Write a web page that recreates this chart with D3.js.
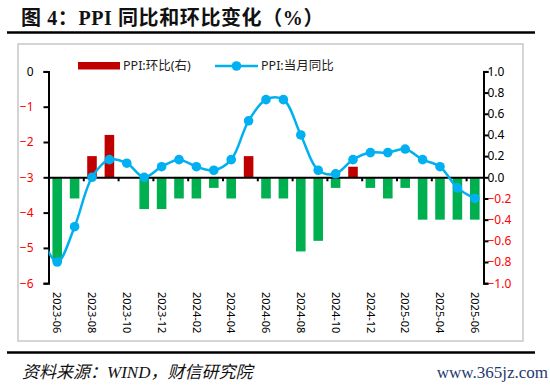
<!DOCTYPE html>
<html>
<head>
<meta charset="utf-8">
<script src="https://cdn.jsdelivr.net/npm/d3@7"></script>
<style>
    body { margin: 0; background: #fff; }
    svg { display: block; }
</style>
</head>
<body>
<div id="chart"></div>
<script>
// months shown on the x axis
var months = ["2023-06","2023-07","2023-08","2023-09","2023-10","2023-11","2023-12",
    "2024-01","2024-02","2024-03","2024-04","2024-05","2024-06","2024-07","2024-08",
    "2024-09","2024-10","2024-11","2024-12","2025-01","2025-02","2025-03","2025-04",
    "2025-05","2025-06"];
// PPI 当月同比 (left axis)
var yoy = [-5.4,-4.4,-3.0,-2.5,-2.6,-3.0,-2.7,-2.5,-2.7,-2.8,-2.5,-1.4,-0.8,-0.8,-1.8,
    -2.8,-2.9,-2.5,-2.3,-2.3,-2.2,-2.5,-2.7,-3.3,-3.6];
// the month before the window, the line comes in from it (clipped)
var yoyBefore = -4.6;
// PPI 环比 (right axis)
var mom = [-0.8,-0.2,0.2,0.4,0.0,-0.3,-0.3,-0.2,-0.2,-0.1,-0.2,0.2,-0.2,-0.2,-0.7,
    -0.6,-0.1,0.1,-0.1,-0.2,-0.1,-0.4,-0.4,-0.4,-0.4];
var leftTicks = [0,-1,-2,-3,-4,-5,-6];
var rightTicks = [1.0,0.8,0.6,0.4,0.2,0.0,-0.2,-0.4,-0.6,-0.8,-1.0];

var W = 550, H = 390;
// plot area (window.top is taken, so own names)
var pLeft = 48.5, pRight = 483.5, pTop = 71.4, pBottom = 283.2;
var latin = "'Noto Sans', 'Noto Sans CJK SC', sans-serif";

var svg = d3.select("#chart").append("svg")
    .attr("width", W).attr("height", H);

// title and rules
svg.append("text")
    .attr("x", 21).attr("y", 25)
    .attr("font-family", "'Liberation Serif', 'Noto Sans CJK SC', serif")
    .attr("font-weight", "bold").attr("font-size", 20)
    .attr("letter-spacing", 0.6)
    .attr("fill", "#111")
    .text("图 4：PPI 同比和环比变化（%）");
svg.append("line").attr("x1", 7).attr("x2", 535).attr("y1", 32.5).attr("y2", 32.5)
    .attr("stroke", "#000").attr("stroke-width", 2.5);
svg.append("line").attr("x1", 7).attr("x2", 535).attr("y1", 352.5).attr("y2", 352.5)
    .attr("stroke", "#000").attr("stroke-width", 2.5);
svg.append("rect").attr("x", 18).attr("y", 44).attr("width", 505).attr("height", 297)
    .attr("fill", "none").attr("stroke", "#C8C8C8").attr("stroke-width", 1.5);

svg.append("text")
    .attr("x", 22).attr("y", 378)
    .attr("font-family", "'Liberation Serif', 'Noto Sans CJK SC', serif")
    .attr("font-style", "italic").attr("font-size", 17)
    .attr("fill", "#111")
    .text("资料来源：WIND，财信研究院");
svg.append("text")
    .attr("x", 548).attr("y", 378).attr("text-anchor", "end")
    .attr("font-family", "'Liberation Serif', serif")
    .attr("font-size", 17).attr("fill", "#1F3A6E")
    .text("www.365jz.com");

// scales
var x = d3.scaleBand().domain(months).range([pLeft, pRight]).paddingInner(0.45).paddingOuter(0.225);
var step = x.step();
var cx = function (i) { return pLeft + step * (i + 0.5); };
var yL = d3.scaleLinear().domain([-6, 0]).range([pBottom, pTop]);
var yR = d3.scaleLinear().domain([-1, 1]).range([pBottom, pTop]);

// bars
svg.append("g").selectAll("rect").data(mom).enter().append("rect")
    .attr("x", function (d, i) { return x(months[i]); })
    .attr("width", x.bandwidth())
    .attr("y", function (d) { return yR(Math.max(d, 0)); })
    .attr("height", function (d) { return Math.abs(yR(d) - yR(0)); })
    .attr("fill", function (d) { return d > 0 ? "#C00000" : "#00B050"; });

// axes
var axL = svg.append("g").attr("transform", "translate(" + pLeft + ",0)")
    .call(d3.axisLeft(yL).tickValues(leftTicks).tickSize(5).tickFormat(d3.format("d")));
var axR = svg.append("g").attr("transform", "translate(" + pRight + ",0)")
    .call(d3.axisRight(yR).tickValues(rightTicks).tickSize(5).tickFormat(d3.format(".1f")));
[axL, axR].forEach(function (ax) {
    ax.select(".domain").attr("stroke", "#000").attr("stroke-width", 2);
    ax.selectAll(".tick line").attr("stroke", "#000").attr("stroke-width", 2);
    ax.selectAll(".tick text")
        .attr("font-family", latin).attr("font-size", 12)
        .attr("fill", function (d) { return d < 0 ? "#FF0000" : "#000"; });
});
axL.selectAll(".tick text").attr("x", -15);
axR.selectAll(".tick text").attr("x", 4);

// zero line with ticks every two months
var xAxis = d3.axisBottom(d3.scaleLinear().domain([0, months.length]).range([pLeft, pRight]))
    .tickValues(d3.range(2, months.length, 2)).tickSize(4).tickFormat("");
var axX = svg.append("g").attr("transform", "translate(0," + yR(0) + ")").call(xAxis);
axX.select(".domain").attr("stroke", "#000").attr("stroke-width", 2);
axX.selectAll(".tick line").attr("stroke", "#000").attr("stroke-width", 2);

// month labels, rotated
svg.append("g").selectAll("text").data(months.filter(function (d, i) { return i % 2 === 0; }))
    .enter().append("text")
    .attr("transform", function (d) {
        return "translate(" + (x(d) + x.bandwidth() / 2) + ",292) rotate(90)";
    })
    .attr("dy", "0.35em")
    .attr("font-family", latin).attr("font-size", 11).attr("fill", "#000")
    .text(function (d) { return d; });

// yoy line
svg.append("clipPath").attr("id", "plot")
    .append("rect").attr("x", pLeft).attr("y", 0).attr("width", pRight - pLeft).attr("height", H);
var pts = [[cx(-1), yL(yoyBefore)]].concat(yoy.map(function (d, i) { return [cx(i), yL(d)]; }));
svg.append("path")
    .attr("clip-path", "url(#plot)")
    .attr("d", d3.line().curve(d3.curveCatmullRom.alpha(0.5))(pts))
    .attr("fill", "none").attr("stroke", "#00B0F0").attr("stroke-width", 2.5);
svg.append("g").selectAll("circle").data(yoy).enter().append("circle")
    .attr("cx", function (d, i) { return cx(i); })
    .attr("cy", function (d) { return yL(d); })
    .attr("r", 4.8).attr("fill", "#00B0F0");

// legend
var lg = svg.append("g").attr("font-family", latin).attr("font-size", 12.5).attr("fill", "#222");
lg.append("rect").attr("x", 78).attr("y", 62).attr("width", 42).attr("height", 7.5).attr("fill", "#C00000");
lg.append("text").attr("x", 123).attr("y", 70).text("PPI:环比(右)");
lg.append("line").attr("x1", 215).attr("x2", 258).attr("y1", 66).attr("y2", 66)
    .attr("stroke", "#00B0F0").attr("stroke-width", 2.5);
lg.append("circle").attr("cx", 236.5).attr("cy", 66).attr("r", 4.8).attr("fill", "#00B0F0");
lg.append("text").attr("x", 261).attr("y", 70).text("PPI:当月同比");
</script>
</body>
</html>
